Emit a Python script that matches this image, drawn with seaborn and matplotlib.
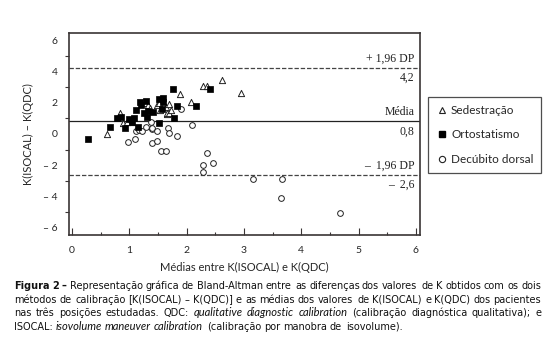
import matplotlib
matplotlib.use("Agg")
import matplotlib.pyplot as plt
import seaborn as sns
import pandas as pd
import numpy as np
from matplotlib.ticker import MultipleLocator, FixedLocator
from matplotlib.lines import Line2D

# ---- data ----
sed_x = [0.61, 0.83, 0.89, 0.96, 1.04, 1.27, 1.33, 1.36, 1.48, 1.51, 1.54, 1.64, 1.65,
         1.66, 1.69, 1.70, 1.73, 1.88, 2.07, 2.29, 2.35, 2.61, 2.95]
sed_y = [0.00, 1.33, 0.70, 0.79, 0.79, 1.97, 1.86, 1.65, 1.86, 1.97, 1.54, 1.75, 1.28,
         1.33, 1.90, 1.37, 1.54, 2.54, 2.07, 3.08, 3.08, 3.46, 2.61]

ort_x = [0.28, 0.66, 0.79, 0.85, 0.92, 1.00, 1.05, 1.08, 1.12, 1.16, 1.19, 1.20, 1.26,
         1.29, 1.31, 1.33, 1.41, 1.51, 1.51, 1.57, 1.58, 1.59, 1.77, 1.78, 1.84, 2.16, 2.41]
ort_y = [-0.34, 0.43, 1.00, 1.10, 0.36, 0.94, 0.75, 1.00, 1.54, 0.47, 2.07, 1.86, 1.37,
         2.13, 1.11, 1.49, 1.43, 2.22, 0.69, 1.60, 2.29, 2.07, 2.87, 1.00, 1.80, 1.80, 2.88]

dec_x = [0.97, 1.10, 1.12, 1.17, 1.22, 1.29, 1.38, 1.39, 1.39, 1.40, 1.48, 1.49, 1.55,
         1.64, 1.68, 1.70, 1.84, 1.91, 2.09, 2.35, 2.46, 2.29, 2.28, 3.15, 3.66, 3.65, 4.68]
dec_y = [-0.49, -0.34, 0.21, 0.26, 0.21, 0.43, 0.79, 0.30, 0.36, -0.56, 0.21, -0.43, -1.07,
         -1.07, 0.36, 0.08, -0.10, 1.58, 0.58, -1.20, -1.84, -1.99, -2.42, -2.90, -2.90, -4.12, -5.04]

groups = ["Sedestração", "Ortostatismo", "Decúbito dorsal"]
mean_diff = 0.8
upper_loa = 4.2
lower_loa = -2.6
xticks = [0, 1, 2, 3, 4, 5, 6]
yticks = [-6, -4, -2, 0, 2, 4, 6]
ytick_labels = ["– 6", "– 4", "– 2", "0", "2", "4", "6"]

# caption: (text, style) segments per line; style b = bold, i = italic, n = normal
caption = [
    [("Figura 2 –", "b"), ("Representação gráfica de Bland-Altman entre as diferenças dos valores de K obtidos com os dois", "n")],
    [("métodos de calibração [K(ISOCAL) – K(QDC)] e as médias dos valores de K(ISOCAL) e K(QDC) dos pacientes", "n")],
    [("nas três posições estudadas. QDC:", "n"), ("qualitative diagnostic calibration", "i"),
     ("(calibração diagnóstica qualitativa); e", "n")],
    [("ISOCAL:", "n"), ("isovolume maneuver calibration", "i"), ("(calibração por manobra de isovolume).", "n")],
]

df = pd.DataFrame({
    "x": sed_x + ort_x + dec_x,
    "y": sed_y + ort_y + dec_y,
    "grupo": [groups[0]] * len(sed_x) + [groups[1]] * len(ort_x) + [groups[2]] * len(dec_x),
})

sns.set_style("white")
plt.rcParams["font.family"] = ["Lato", "DejaVu Sans"]

W, H = 557, 348
fig = plt.figure(figsize=(W / 100, H / 100), dpi=100)
ax = fig.add_axes([0.124, 0.325, 0.630, 0.580])

spine_c = "#3a3535"
styles = {
    groups[0]: dict(marker="^", facecolor="white", edgecolor="#222222", s=20, linewidth=0.7),
    groups[1]: dict(marker="s", facecolor="black", edgecolor="black", s=22, linewidth=0.5),
    groups[2]: dict(marker="o", facecolor="white", edgecolor="#222222", s=17, linewidth=0.7),
}
for g in [groups[2], groups[0], groups[1]]:
    sub = df[df["grupo"] == g]
    st = styles[g]
    sns.scatterplot(data=sub, x="x", y="y", ax=ax, marker=st["marker"],
                    color=st["facecolor"], edgecolor=st["edgecolor"], s=st["s"],
                    linewidth=st["linewidth"], legend=False, zorder=3)

ax.axhline(mean_diff, color="#222222", lw=0.9, zorder=2)
ax.axhline(upper_loa, color="#444444", lw=0.9, ls=(0, (3.5, 1.5)), zorder=2)
ax.axhline(lower_loa, color="#444444", lw=0.9, ls=(0, (3.5, 1.5)), zorder=2)

ax.set_xlim(-0.05, 6.07)
ax.set_ylim(-6.45, 6.45)
ax.xaxis.set_major_locator(FixedLocator(xticks))
ax.xaxis.set_minor_locator(MultipleLocator(0.5))
ax.yaxis.set_major_locator(FixedLocator(yticks))
ax.yaxis.set_minor_locator(MultipleLocator(1))
ax.set_yticklabels(ytick_labels)
ax.tick_params(axis="y", which="major", direction="out", length=5, width=0.8,
               color=spine_c, labelsize=7.5, pad=3)
ax.tick_params(axis="y", which="minor", direction="out", length=3, width=0.8, color=spine_c, left=True)
ax.tick_params(axis="x", which="major", direction="in", length=5, width=0.8,
               color=spine_c, labelsize=7.5, pad=8, bottom=True)
ax.tick_params(axis="x", which="minor", direction="in", length=2.5, width=0.8, color=spine_c, bottom=True)
for sp in ax.spines.values():
    sp.set_color(spine_c)
    sp.set_linewidth(1.2)

ax.set_xlabel("Médias entre K(ISOCAL) e K(QDC)", fontsize=8, labelpad=5)
ax.set_ylabel("K(ISOCAL) – K(QDC)", fontsize=8, labelpad=7)

serif = ["Liberation Serif", "DejaVu Serif"]
xt = 5.98
for yv, txt, va in [(upper_loa + 0.2, "+ 1,96 DP", "bottom"), (upper_loa - 0.25, "4,2", "top"),
                    (mean_diff + 0.2, "Média", "bottom"), (mean_diff - 0.25, "0,8", "top"),
                    (lower_loa + 0.2, "–  1,96 DP", "bottom"), (lower_loa - 0.25, "–  2,6", "top")]:
    ax.text(xt, yv, txt, ha="right", va=va, fontsize=8.5, family=serif, color="#222222")

handles = [
    Line2D([], [], ls="none", marker="^", markerfacecolor="white", markeredgecolor="#222222", markersize=4.5, markeredgewidth=0.8),
    Line2D([], [], ls="none", marker="s", markerfacecolor="black", markeredgecolor="black", markersize=4.5),
    Line2D([], [], ls="none", marker="o", markerfacecolor="white", markeredgecolor="#222222", markersize=4.5, markeredgewidth=0.8),
]
leg = fig.legend(handles, groups, loc="upper left", bbox_to_anchor=(428 / W, 1 - 97 / H),
                 frameon=True, fancybox=False, fontsize=8.5, labelspacing=1.15,
                 handletextpad=0.3, handlelength=1.0, borderpad=0.65, borderaxespad=0)
leg.get_frame().set_edgecolor("#222222")
leg.get_frame().set_linewidth(0.9)

# ---- caption, drawn word by word (justified like the reference) ----
x_left, x_right = 14, 541
baselines = [289, 303, 316, 330]
renderer = fig.canvas.get_renderer()
stylemap = {
    "b": dict(fontweight="bold", family=["DejaVu Sans"], fontsize=7.0),
    "i": dict(fontstyle="italic", family=["Lato", "DejaVu Sans"], fontsize=8.0),
    "n": dict(family=["DejaVu Sans"], fontsize=7.0),
}
probe = fig.text(0, 0, "n n", **stylemap["n"])
probe2 = fig.text(0, 0, "nn", **stylemap["n"])
sw = probe.get_window_extent(renderer).width - probe2.get_window_extent(renderer).width
probe.remove()
probe2.remove()
for li, segs in enumerate(caption):
    words = []
    for text, st in segs:
        for w in text.split(" "):
            words.append((w, st))
    arts = [fig.text(0, 0, w, va="baseline", ha="left", color="#111111", **stylemap[st])
            for w, st in words]
    widths = [a.get_window_extent(renderer).width for a in arts]
    justify = li < len(caption) - 1
    if justify and len(arts) > 1:
        gap = (x_right - x_left - sum(widths)) / (len(arts) - 1)
    else:
        gap = sw
    x = x_left
    for a, w in zip(arts, widths):
        # compensate the pixel rounding of the glyph bitmap so all words share one baseline
        _, hh, dd = renderer.get_text_width_height_descent(a.get_text(), a.get_fontproperties(), ismath=False)
        c = int(hh) - int(hh - dd) - dd
        a.set_position((round(x) / W, 1 - (baselines[li] + c) / H))
        x += w + gap

fig.savefig("out.png", dpi=100)
